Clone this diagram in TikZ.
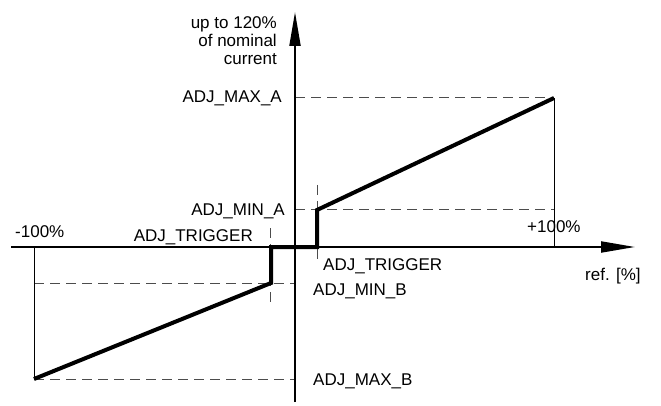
\documentclass[tikz,border=0pt]{standalone}
\usepackage{fontspec}
\setmainfont{Liberation Sans}
\usetikzlibrary{arrows.meta}
\tikzset{
  axisline/.style={line width=2pt,-{Triangle[length=34pt,width=11pt]}},
  guide/.style={draw=black!70,line width=1pt,dash pattern=on 10pt off 6pt},
  thinline/.style={line width=1pt},
  curve/.style={line width=4pt,line join=miter},
  lbl/.style={inner sep=0pt,font=\fontsize{17}{18}\selectfont}
}
\begin{document}
\begin{tikzpicture}[x=1pt,y=-1pt]
\useasboundingbox (0,0) rectangle (661,406);
% key points
\coordinate (yb) at (295,402);
\coordinate (yt) at (295,12);
\coordinate (xl) at (11,247);
\coordinate (xr) at (635,247);
\coordinate (o) at (295,247);
\coordinate (pmax) at (554,98);
\coordinate (pmaxax) at (554,247);
\coordinate (pmin) at (317,210);
\coordinate (ptrig) at (317,247);
\coordinate (nmax) at (34,379);
\coordinate (nmaxax) at (34,247);
\coordinate (nmin) at (271,283);
\coordinate (ntrig) at (271,247);
\coordinate (amaxa) at (295,98);
\coordinate (amina) at (295,210);
\coordinate (aminb) at (295,283);
\coordinate (amaxb) at (295,379);
\coordinate (rtt) at (317,185);
\coordinate (rtb) at (317,260);
\coordinate (ltt) at (270,228);
\coordinate (ltb) at (270,303);
% guides
\draw[guide] (amaxa) -- (pmax);
\draw[guide] (amina) -- (pmin -| pmax);
\draw[guide] (nmin -| nmax) -- (aminb);
\draw[guide] (nmax) -- (amaxb);
\draw[guide] (rtt) -- (rtb);
\draw[guide] (ltt) -- (ltb);
\draw[thinline] (pmax) -- (pmaxax);
\draw[thinline] (nmax) -- (nmaxax);
% axes
\draw[axisline] (yb) -- (yt);
\draw[axisline] (xl) -- (xr);
% characteristic
\draw[curve] (nmax) -- (nmin) -- (ntrig) -- (ptrig) -- (pmin) -- (pmax);
% labels
\node[lbl,anchor=east,align=right] (ylab) at (277,41) {up to 120\%\\of nominal\\current};
\node[lbl,anchor=base east] (lmaxa) at (282,103) {ADJ\_MAX\_A};
\node[lbl,anchor=base east] (lmina) at (285,215) {ADJ\_MIN\_A};
\node[lbl,anchor=base east] (ltrigl) at (253,241) {ADJ\_TRIGGER};
\node[lbl,anchor=base west] (lm100) at (15,237) {-100\%};
\node[lbl,anchor=base west] (lp100) at (527,233) {+100\%};
\node[lbl,anchor=base west] (ltrigr) at (323,270) {ADJ\_TRIGGER};
\node[lbl,anchor=base west] (lminb) at (313,295) {ADJ\_MIN\_B};
\node[lbl,anchor=base west] (lmaxb) at (313,385) {ADJ\_MAX\_B};
\node[lbl,anchor=base west] (lref) at (585,280) {ref. [\%]};
\end{tikzpicture}
\end{document}
